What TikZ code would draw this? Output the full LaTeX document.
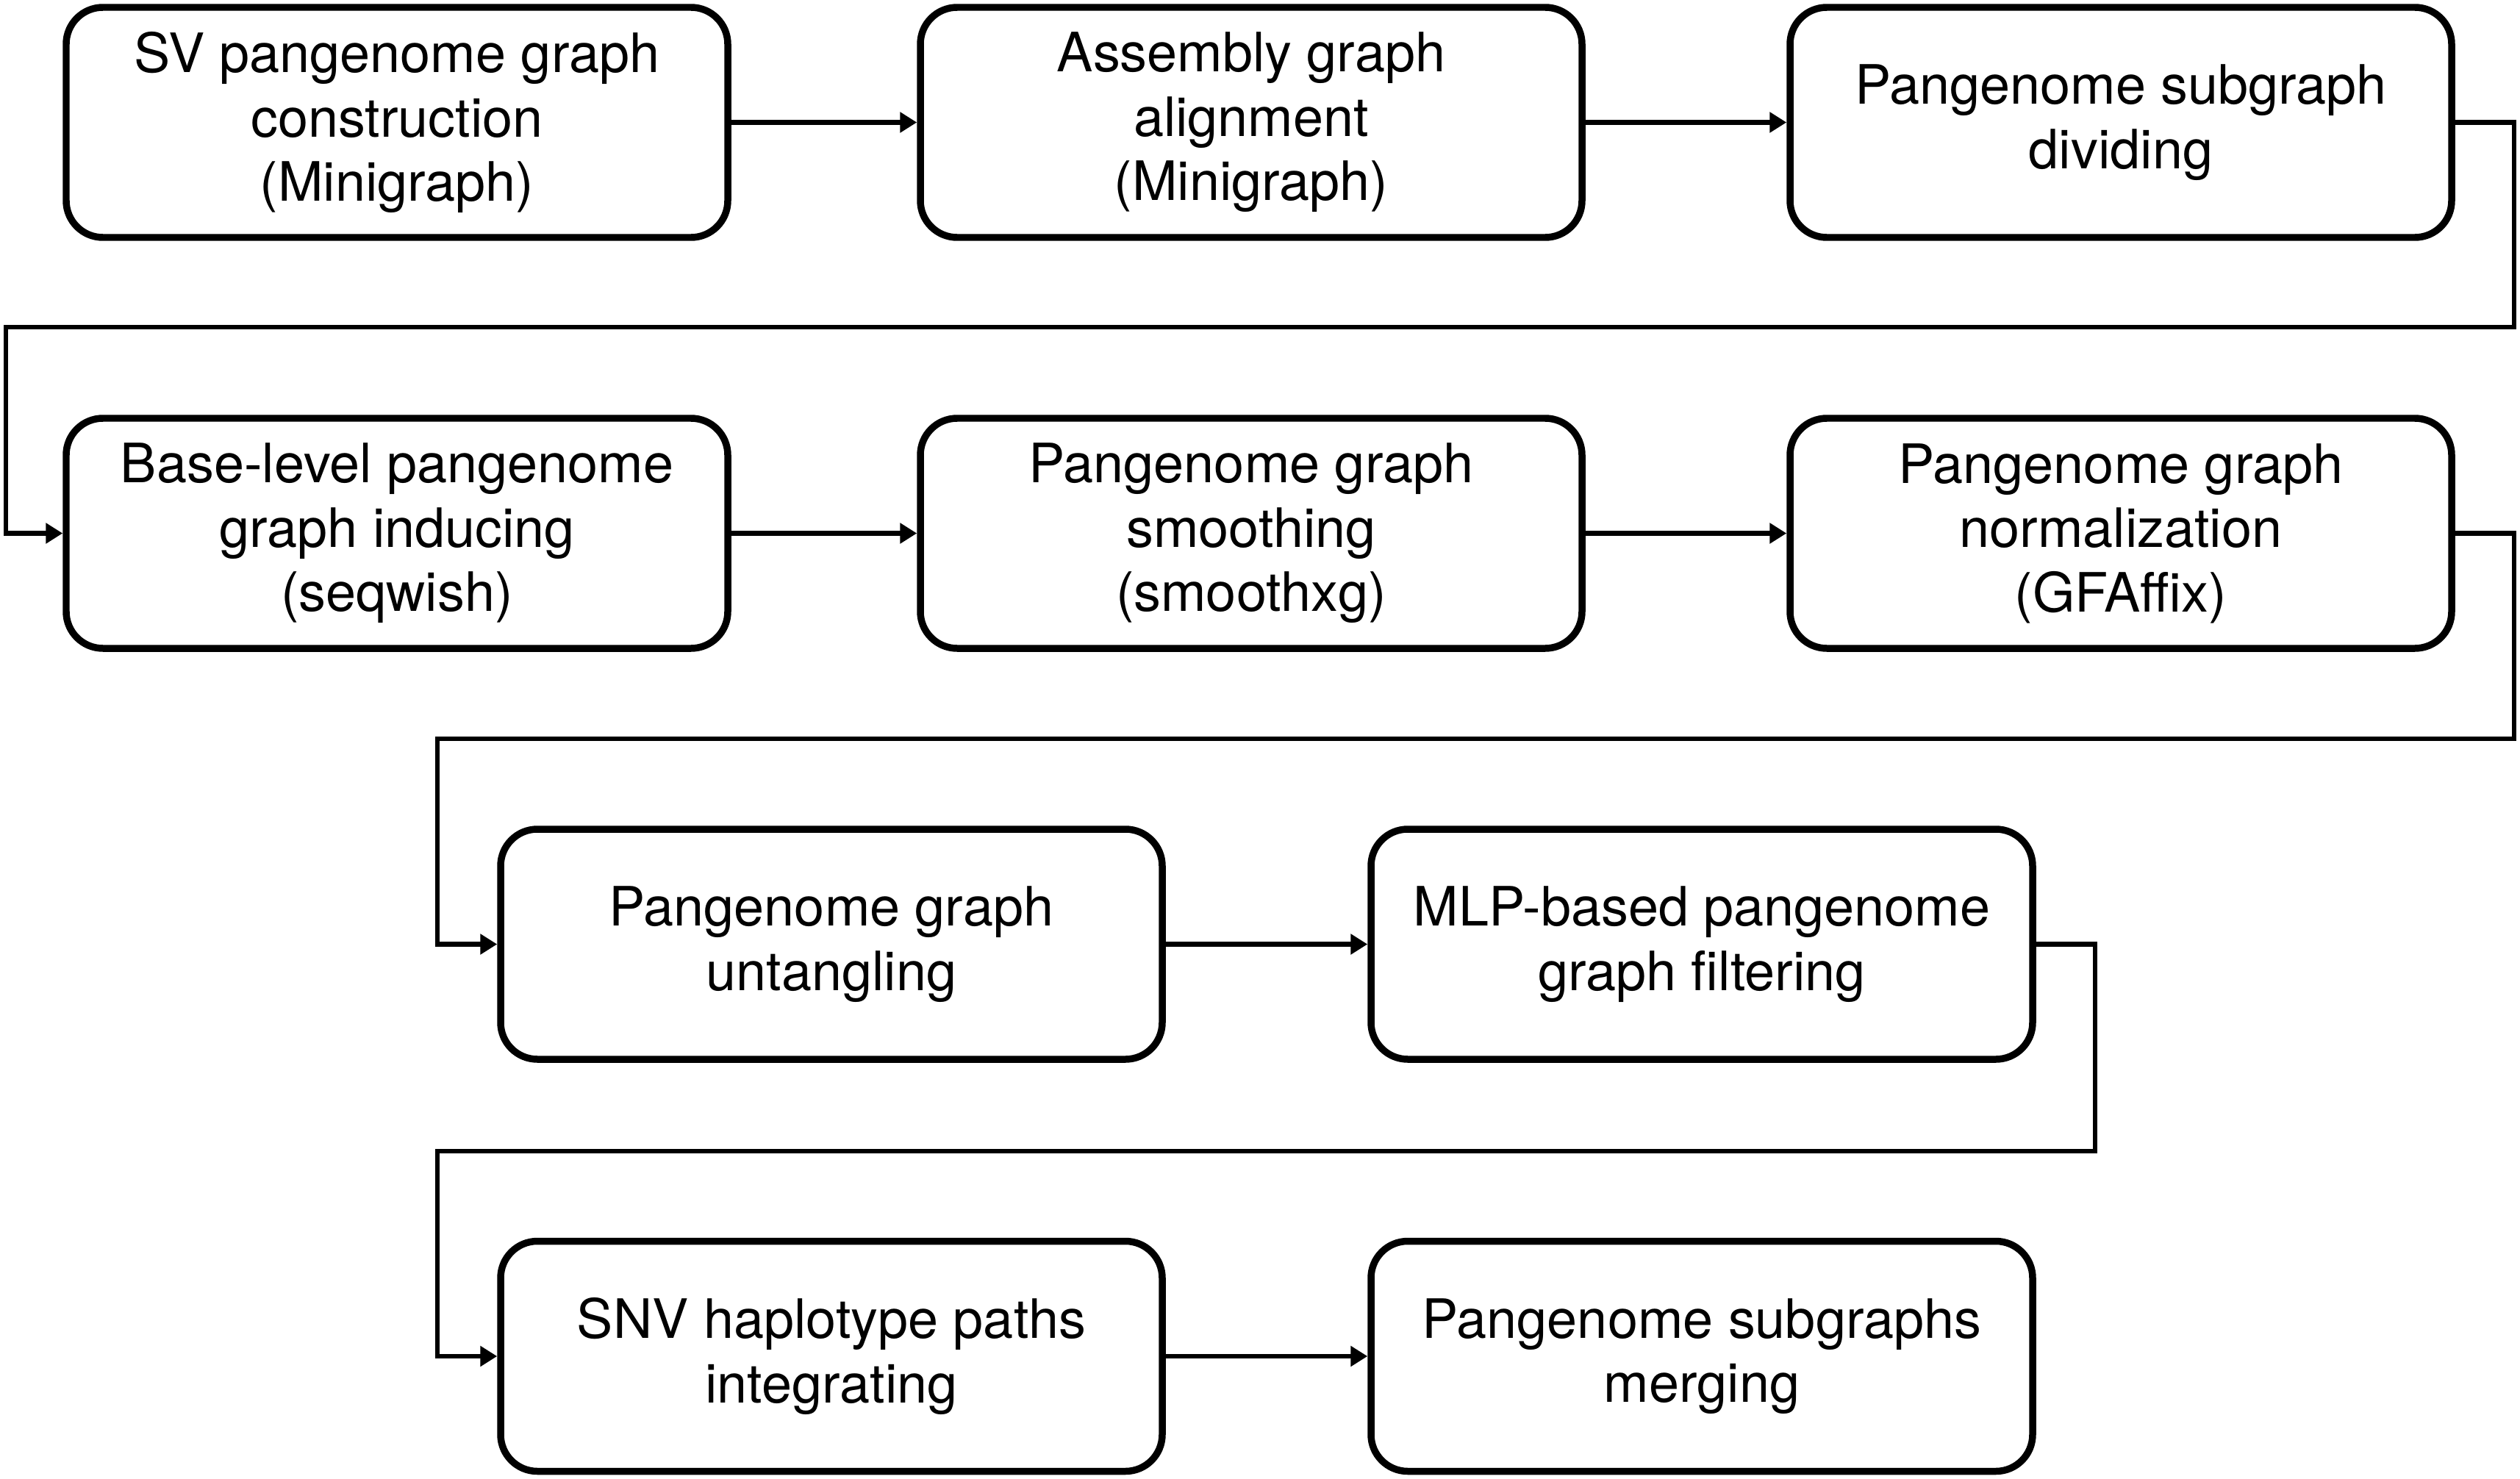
\documentclass[tikz,border=0pt]{standalone}
\usepackage{fontspec}
\setmainfont{TeX Gyre Heros}
\usetikzlibrary{arrows.meta}

\begin{document}
\begin{tikzpicture}[
   stepbox/.style={draw, line width=2.7pt, rounded corners=0.5cm,
      minimum width=9.0cm, minimum height=3.13cm, align=center,
      font=\fontsize{21pt}{24.9pt}\selectfont},
   flow/.style={line width=1.85pt, -{Triangle[length=0.23cm, width=0.27cm]}}
]

   \useasboundingbox (0,0) rectangle (34.28,-20.12);

   % row 1
   \node[stepbox] (sv)     at (5.40,-1.665)  {SV pangenome graph\\construction\\(Minigraph)};
   \node[stepbox] (align)  at (17.02,-1.665) {Assembly graph\\alignment\\(Minigraph)};
   \node[stepbox] (divide) at (28.85,-1.665) {Pangenome subgraph\\dividing};

   % row 2
   \node[stepbox] (induce) at (5.40,-7.255)  {Base-level pangenome\\graph inducing\\(seqwish)};
   \node[stepbox] (smooth) at (17.02,-7.255) {Pangenome graph\\smoothing\\(smoothxg)};
   \node[stepbox] (norm)   at (28.85,-7.255) {Pangenome graph\\normalization\\(GFAffix)};

   % row 3
   \node[stepbox] (untangle) at (11.31,-12.845) {Pangenome graph\\untangling};
   \node[stepbox] (filter)   at (23.15,-12.845) {MLP-based pangenome\\graph filtering};

   % row 4
   \node[stepbox] (snv)   at (11.31,-18.45) {SNV haplotype paths\\integrating};
   \node[stepbox] (merge) at (23.15,-18.45) {Pangenome subgraphs\\merging};

   \coordinate (r1) at (34.20,-4.45);
   \coordinate (l1) at (0.08,-4.45);
   \coordinate (r2) at (34.20,-10.05);
   \coordinate (l2) at (5.95,-10.05);
   \coordinate (r3) at (28.50,-15.66);
   \coordinate (l3) at (5.95,-15.66);

   \draw[flow] (sv.east) -- (align.west);
   \draw[flow] (align.east) -- (divide.west);
   \draw[flow] (divide.east) -| (r1) -- (l1) |- (induce.west);

   \draw[flow] (induce.east) -- (smooth.west);
   \draw[flow] (smooth.east) -- (norm.west);
   \draw[flow] (norm.east) -| (r2) -- (l2) |- (untangle.west);

   \draw[flow] (untangle.east) -- (filter.west);
   \draw[flow] (filter.east) -| (r3) -- (l3) |- (snv.west);

   \draw[flow] (snv.east) -- (merge.west);

\end{tikzpicture}
\end{document}
